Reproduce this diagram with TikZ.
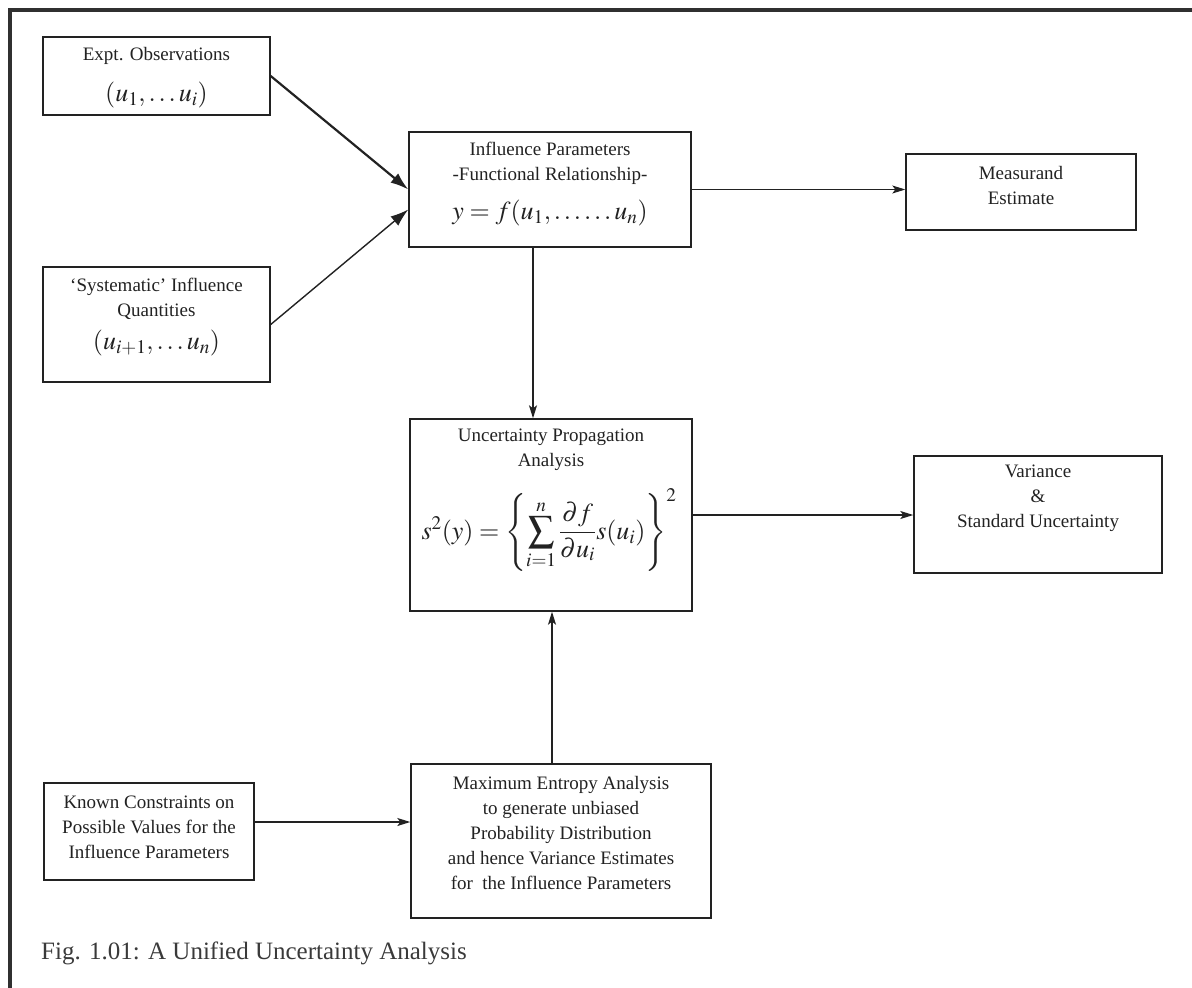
\documentclass[tikz,border=0pt]{standalone}
\usepackage{mathptmx}
\usepackage{fontspec}
\setmainfont{Liberation Serif}
\usetikzlibrary{arrows.meta,calc}
\definecolor{ink}{HTML}{222222}
\definecolor{frame}{HTML}{303030}
\definecolor{captiongray}{HTML}{3A3A3A}
\begin{document}
\begin{tikzpicture}[x=1pt,y=-1pt,
  box/.style={draw=ink, line width=1.4pt, inner sep=0pt, fill=white},
  txt/.style={font=\fontsize{19}{25}\selectfont, align=center, inner sep=0pt, text=ink},
  mth/.style={font=\fontsize{26}{30}\selectfont, inner sep=0pt, text=ink},
  arr/.style={draw=ink, line width=1.2pt, -{Stealth[length=13pt,width=8pt,inset=3pt]}},
  bigarr/.style={draw=ink, line width=1.4pt, -{Latex[length=18pt,width=12pt]}}
]
\useasboundingbox (0,0) rectangle (1192,988);
% outer frame (top and left)
\draw[frame, line width=3.5pt] (1192,10) -- (10,10) -- (10,988);

% boxes
\node[box, minimum width=227pt, minimum height=78pt]  (expt)   at (156.5,76) {};
\node[box, minimum width=227pt, minimum height=115pt] (sys)    at (156.5,324.5) {};
\node[box, minimum width=282pt, minimum height=115pt] (infl)   at (550,189.5) {};
\node[box, minimum width=230pt, minimum height=76pt]  (meas)   at (1021,192) {};
\node[box, minimum width=282pt, minimum height=192pt] (unc)    at (551,515) {};
\node[box, minimum width=248pt, minimum height=117pt] (var)    at (1038,514.5) {};
\node[box, minimum width=210pt, minimum height=97pt]  (known)  at (149,831.5) {};
\node[box, minimum width=300pt, minimum height=154pt] (maxent) at (561,841) {};

% texts
\node[txt] (exptT) at (156.5,56) {Expt. Observations};
\node[mth] (exptM) at (156.5,95) {$(u_1,\ldots u_i)$};

\node[txt] (sysT) at (156.5,299) {`Systematic' Influence\\Quantities};
\node[mth] (sysM) at (156.5,343) {$(u_{i+1},\ldots u_n)$};

\node[txt] (inflT) at (550,163) {Influence Parameters\\-Functional Relationship-};
\node[mth] (inflM) at (550,213) {$y=f(u_1,\ldots\ldots u_n)$};

\node[txt] (measT) at (1021,185) {Measurand\\Estimate};

\node[txt] (uncT) at (551,450) {Uncertainty Propagation\\Analysis};
\node[mth] (uncM) at (549,530) {$s^2(y)=\left\{\displaystyle\sum_{i=1}^{n}\frac{\partial f}{\partial u_i}s(u_i)\right\}^2$};

\node[txt] (varT) at (1038,498) {Variance\\\&\\Standard Uncertainty};

\node[txt] (knownT) at (149,827) {Known Constraints on\\Possible Values for the\\Influence Parameters};

\node[txt] (maxentT) at (561,833) {Maximum Entropy Analysis\\to generate unbiased\\Probability Distribution\\and hence Variance Estimates\\for\ \ the Influence Parameters};

\node[anchor=base west, inner sep=0pt, text=captiongray, font=\fontsize{25}{30}\selectfont] (caption) at (41,959) {Fig. 1.01: A Unified Uncertainty Analysis};

% connectors
\draw[bigarr, line width=2.2pt] (expt.east) -- (infl.west);
\draw[bigarr] (sys.east) -- ([yshift=-20pt]infl.west);
\draw[arr] (infl.east) -- (infl.east -| meas.west);
\draw[arr] ([xshift=-17pt]infl.south) -- ([xshift=-17pt]infl.south |- unc.north);
\draw[arr] (unc.east) -- (unc.east -| var.west);
\draw[arr] ([xshift=-9pt]maxent.north) -- ([xshift=-9pt]maxent.north |- unc.south);
\draw[arr] ([yshift=9.5pt]known.east) -- ([yshift=9.5pt]known.east -| maxent.west);
\end{tikzpicture}
\end{document}
